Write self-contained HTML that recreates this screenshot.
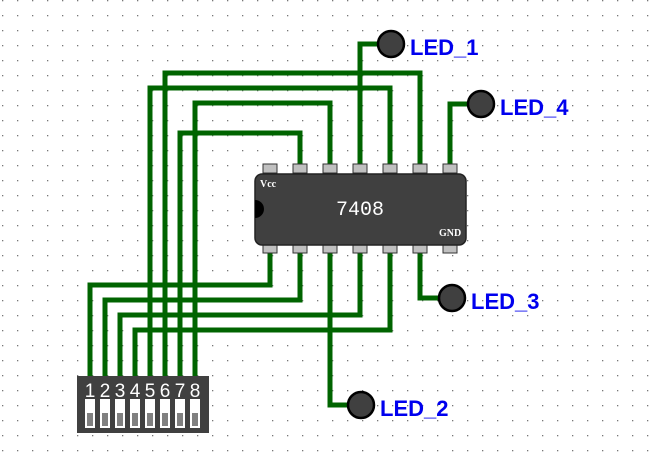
<!DOCTYPE html>
<html><head><style>
html,body{margin:0;padding:0;background:#fff;}
</style></head><body>
<svg width="659" height="460" viewBox="0 0 659 460" xmlns="http://www.w3.org/2000/svg" font-family="Liberation Sans, sans-serif">
<defs><pattern id="g" x="2" y="0" width="15" height="15" patternUnits="userSpaceOnUse"><rect x="0" y="0" width="1.3" height="1.3" fill="#777"/></pattern></defs>
<rect width="659" height="460" fill="url(#g)"/>
<g fill="none" stroke="#006400" stroke-width="5" stroke-linejoin="miter">
<polyline points="90,378 90,285 270,285 270,250"/>
<polyline points="105,378 105,300 300,300 300,250"/>
<polyline points="120,378 120,315 360,315 360,250"/>
<polyline points="135,378 135,330 390,330 390,250"/>
<polyline points="150,378 150,88 390,88 390,166"/>
<polyline points="165,378 165,73 420,73 420,166"/>
<polyline points="180,378 180,133 300,133 300,166"/>
<polyline points="195,378 195,103 330,103 330,166"/>
<polyline points="360,166 360,44 380,44"/>
<polyline points="450,166 450,104 470,104"/>
<polyline points="330,250 330,405 350,405"/>
<polyline points="420,250 420,298 440,298"/>
</g>
<g fill="#c0c0c0" stroke="#333" stroke-width="1">
<rect x="263" y="164" width="14" height="9"/><rect x="293" y="164" width="14" height="9"/><rect x="323" y="164" width="14" height="9"/><rect x="353" y="164" width="14" height="9"/><rect x="383" y="164" width="14" height="9"/><rect x="413" y="164" width="14" height="9"/><rect x="443" y="164" width="14" height="9"/>
<rect x="263" y="244" width="14" height="9"/><rect x="293" y="244" width="14" height="9"/><rect x="323" y="244" width="14" height="9"/><rect x="353" y="244" width="14" height="9"/><rect x="383" y="244" width="14" height="9"/><rect x="413" y="244" width="14" height="9"/><rect x="443" y="244" width="14" height="9"/>
</g>
<rect x="255" y="174" width="211" height="71" rx="7" fill="#404040" stroke="#222" stroke-width="1.5"/>
<path d="M255,200 a9,9 0 0 1 0,18 z" fill="#000"/>
<text x="260" y="187" font-family="Liberation Serif, serif" font-size="10" font-weight="bold" fill="#fff">Vcc</text>
<text x="439" y="236" font-family="Liberation Serif, serif" font-size="10" font-weight="bold" fill="#fff">GND</text>
<text x="360" y="215" font-family="Liberation Mono, monospace" font-size="20" fill="#fff" text-anchor="middle">7408</text>
<rect x="77" y="376" width="132" height="57" fill="#404040"/>
<g fill="#fff" font-size="19" text-anchor="middle">
<text x="90" y="397">1</text><text x="105" y="397">2</text><text x="120" y="397">3</text><text x="135" y="397">4</text><text x="150" y="397">5</text><text x="165" y="397">6</text><text x="180" y="397">7</text><text x="195" y="397">8</text>
</g>
<g fill="#fff"><rect x="85" y="399" width="10" height="29"/><rect x="100" y="399" width="10" height="29"/><rect x="115" y="399" width="10" height="29"/><rect x="130" y="399" width="10" height="29"/><rect x="145" y="399" width="10" height="29"/><rect x="160" y="399" width="10" height="29"/><rect x="175" y="399" width="10" height="29"/><rect x="190" y="399" width="10" height="29"/></g>
<g fill="#808080"><rect x="87" y="413" width="6" height="13"/><rect x="102" y="413" width="6" height="13"/><rect x="117" y="413" width="6" height="13"/><rect x="132" y="413" width="6" height="13"/><rect x="147" y="413" width="6" height="13"/><rect x="162" y="413" width="6" height="13"/><rect x="177" y="413" width="6" height="13"/><rect x="192" y="413" width="6" height="13"/></g>
<g fill="#404040" stroke="#000" stroke-width="2.5">
<circle cx="391" cy="44" r="13"/><circle cx="481" cy="104" r="13"/><circle cx="452" cy="298" r="13"/><circle cx="361" cy="405" r="13"/>
</g>
<g fill="#0000ee" font-size="22" font-weight="bold">
<text x="410" y="55">LED_1</text><text x="500" y="115">LED_4</text><text x="471" y="309">LED_3</text><text x="380" y="416">LED_2</text>
</g>
</svg>
</body></html>
